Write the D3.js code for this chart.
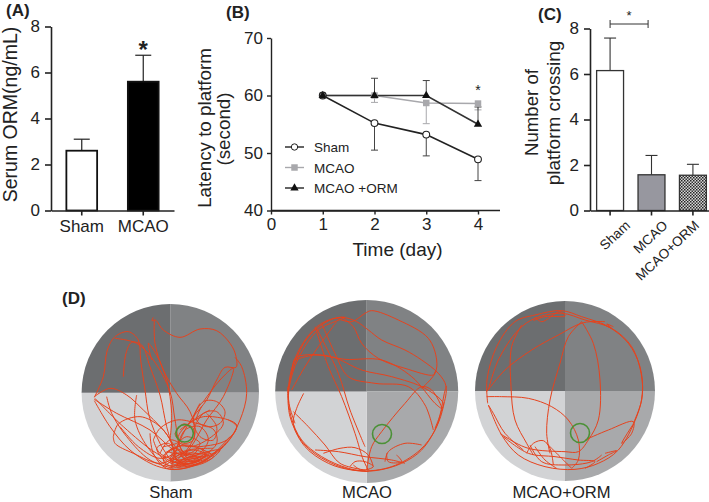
<!DOCTYPE html>
<html><head><meta charset="utf-8">
<script src="https://cdn.jsdelivr.net/npm/d3@7/dist/d3.min.js"></script>
<style>html,body{margin:0;padding:0;background:#fff}svg{display:block}
text{font-family:"Liberation Sans",Arial,sans-serif;fill:#222}
.axis path,.axis line{stroke:#222}</style></head><body>
<script>
// ---- Data -------------------------------------------------
const catsA=["Sham","MCAO"], valsA=[2.6,5.6], errA=[3.1,6.75];
const ticksA=[0,2,4,6,8];
const days=[1,2,3,4];
const shamB=[60,55.2,53.2,48.9], shamBlo=[60,50.5,49.5,45.2];
const mcaoB=[60,60,58.7,58.6], mcaoBlo=[60,58.8,55.1,57.5];
const ormB=[60,60,60,55], ormBhi=[60,63,62.6,58];
const namesB=["Sham","MCAO","MCAO +ORM"];
const catsC=["Sham","MCAO","MCAO+ORM"], valsC=[6.15,1.57,1.55], errC=[7.58,2.42,2.03];
const ticksC=[0,2,4,6,8];
const poolNames=["Sham","MCAO","MCAO+ORM"];
// swim tracks in tracker units
const trackSham=[
[[280,112],[276,122],[286,120],[310,150],[360,172],[420,147],[470,152],[510,190],[527,225],[528,262],[495,262],[470,300],[440,360],[400,410],[375,450],[345,520],[335,560]],
[[283,120],[285,190],[310,270],[350,340],[390,395],[405,460],[380,510],[340,550]],
[[103,352],[130,290],[142,210],[165,170],[205,155],[235,180],[242,240],[255,330],[268,410],[300,490],[335,545]],
[[165,175],[230,190],[280,240],[330,335],[345,420],[362,505],[390,545]],
[[190,290],[198,220],[215,187],[245,195],[270,260],[300,345],[320,440],[350,540]],
[[275,240],[265,190],[290,225],[320,300],[335,400],[330,480]],
[[103,350],[150,325],[200,345],[250,390],[310,450],[360,515],[420,540]],
[[103,358],[170,400],[270,450],[340,510],[400,545],[450,520]],
[[103,362],[150,440],[210,510],[290,558],[350,568],[420,550],[500,490],[540,420],[560,340],[545,260],[525,232]],
[[160,470],[175,432],[240,410],[300,440],[335,490],[340,530],[300,550],[220,520],[165,490],[160,470]],
[[140,350],[155,400],[200,470],[270,540],[340,565]],
[[230,345],[225,420],[262,500],[320,555],[390,550]],
[[280,480],[300,445],[350,420],[410,430],[462,450],[470,490],[430,525],[360,540],[300,520],[280,480]],
[[345,460],[370,432],[400,445],[400,480],[370,490],[348,470],[345,460]],
[[390,430],[430,365],[470,365],[495,395],[480,430],[440,440],[410,420],[425,380]],
[[430,365],[480,300],[520,265],[490,350],[440,420],[400,490],[370,530]],
[[360,450],[430,410],[530,435],[500,480],[420,500],[350,500],[310,530],[350,555],[440,530],[490,500]],
[[320,520],[370,495],[430,510],[460,530],[400,555],[335,560],[310,540],[340,505],[380,525],[350,550]],
[[330,565],[380,540],[440,525],[400,510],[345,535],[390,555],[450,530],[370,520],[330,545],[420,540]],
[[350,505],[375,450],[420,440],[445,480],[410,525],[370,515],[355,470],[400,420],[450,390]],
[[105,355],[190,440],[290,520],[360,550],[440,535],[510,470]],
[[180,440],[235,500],[300,535],[345,515],[325,490],[290,505],[320,550]],
[[310,560],[360,530],[420,520],[480,510],[440,545],[380,558],[330,535],[385,510],[460,505]],
[[345,545],[395,530],[450,515],[405,545],[350,560],[375,535],[425,530],[370,550]],
[[300,520],[330,480],[390,500],[455,470],[490,430],[470,395],[430,400],[400,450]],
[[420,370],[400,420],[420,470],[460,480],[470,440],[440,400]],
[[270,460],[280,520],[320,565],[390,560],[470,515],[530,440],[505,420]],
[[330,530],[355,510],[375,540],[400,525],[420,505],[435,525],[400,550],[360,545],[340,525]],
[[310,500],[350,490],[380,470],[420,490],[390,520],[345,520],[320,515]]
];
const trackMcao=[
[[116,340],[95,385],[85,430],[120,500],[190,550],[260,570],[330,572],[410,550],[470,510],[515,440],[535,380],[543,318],[520,280],[470,240],[420,210],[350,180],[310,150],[275,125],[230,112],[170,130],[120,180],[85,250],[70,330],[78,410],[110,480],[170,530],[250,565],[310,575]],
[[68,320],[75,410],[115,490],[190,545],[280,572],[380,560],[465,510],[510,450],[530,390],[535,370],[480,325],[380,290],[290,270],[200,230],[120,225],[90,235],[80,280]],
[[90,240],[150,225],[240,238],[350,240],[440,290],[510,370],[530,385],[500,330],[470,320],[420,370],[350,455],[320,500],[305,570]],
[[215,115],[260,125],[300,100],[320,92],[400,120],[490,175],[515,240],[510,280],[470,325]],
[[230,112],[265,140],[290,190],[340,235],[420,265],[505,285],[510,275]],
[[150,140],[190,260],[230,350],[270,460],[295,540],[310,570]],
[[215,125],[160,200],[120,260],[80,330]],
[[155,145],[220,280],[255,390],[300,500]],
[[170,130],[210,220],[250,290],[330,310],[430,320],[480,375],[505,450]],
[[85,395],[130,440],[180,495],[225,550],[300,570]],
[[150,510],[220,515],[300,530],[380,540],[420,550]],
[[175,520],[225,505],[270,503],[310,525],[325,560]],
[[255,560],[270,545],[300,545],[325,560],[290,570],[265,555]],
[[360,545],[370,515],[420,490],[470,495]],
[[365,520],[370,545],[410,545],[395,525]],
[[70,330],[85,260],[130,170],[200,118],[240,112],[160,150],[100,235],[73,320],[72,370],[90,430]],
[[510,445],[525,405],[538,340],[544,318]]
];
const trackOrm=[
[[68,370],[66,300],[95,200],[150,125],[210,105],[290,92],[350,110],[430,140],[490,190],[525,260],[532,340],[515,410],[460,510],[400,550],[330,568],[240,560],[160,525],[110,465],[70,375]],
[[70,330],[100,240],[160,150],[210,115],[290,100],[360,120],[440,145],[500,200],[530,290],[530,360],[505,430]],
[[65,350],[110,350],[190,355],[260,380],[310,420],[340,480],[340,540],[320,565]],
[[170,135],[140,200],[138,320],[150,420],[185,490],[205,525]],
[[255,520],[245,460],[255,360],[285,250],[310,170],[350,125]],
[[350,125],[385,190],[405,300],[400,420],[370,480],[340,515],[300,515],[190,505],[120,470],[105,460]],
[[65,335],[120,270],[200,210],[280,165],[355,128],[420,125]],
[[360,480],[430,450],[505,425],[500,460],[470,490],[505,432]],
[[185,520],[205,490],[235,482],[255,505],[265,555]],
[[195,495],[230,545],[300,555],[380,545],[410,525]],
[[115,470],[190,520],[270,530],[340,540],[390,545],[360,565]],
[[210,500],[240,540],[275,565]],
[[245,490],[285,530],[320,565]],
[[210,112],[230,125],[285,95],[300,108],[240,110],[205,122]],
[[410,130],[440,145],[425,132],[445,140]],
[[70,375],[85,400],[120,460],[175,510]],
[[395,545],[430,525],[455,512],[420,520]]
];
const tracks=[trackSham,trackMcao,trackOrm];
const platforms=[[374,460,26],[351,462,28.5],[345,459,28.5]];

// ---- Page -------------------------------------------------
const svg=d3.select("body").append("svg").attr("width",709).attr("height",502);
const ink="#222", red="#e6431e";
const defs=svg.append("defs");
const pat=defs.append("pattern").attr("id","hatch").attr("width",3).attr("height",3).attr("patternUnits","userSpaceOnUse");
pat.append("rect").attr("width",3).attr("height",3).attr("fill","#d8d8d8");
pat.append("rect").attr("width",1.5).attr("height",1.5).attr("fill","#222");
pat.append("rect").attr("x",1.5).attr("y",1.5).attr("width",1.5).attr("height",1.5).attr("fill","#333");

function styleAxis(g,fs,w){g.attr("class","axis");g.selectAll("path,line").attr("stroke",ink).attr("stroke-width",w);
 g.selectAll("text").attr("font-size",fs).attr("font-family",'"Liberation Sans",Arial,sans-serif').attr("fill",ink);}
function panel(t,x,y){svg.append("text").attr("x",x).attr("y",y).attr("font-size",17).attr("font-weight","bold").attr("fill","#111").text(t);}
function ylabel(l,x,cy,fs){svg.append("text").attr("transform",`translate(${x},${cy}) rotate(-90)`).attr("text-anchor","middle").attr("font-size",fs).text(l);}
function whisker(x,y0,y1,cap,col,w){const g=svg.append("g").attr("stroke",col||ink).attr("stroke-width",w||1.2);
 g.append("line").attr("x1",x).attr("x2",x).attr("y1",y0).attr("y2",y1);
 g.append("line").attr("x1",x-cap).attr("x2",x+cap).attr("y1",y1).attr("y2",y1);}

// Panel A
{const y=d3.scaleLinear().domain([0,8]).range([210.5,26.5]);
 const x=d3.scaleBand().domain(catsA).range([51,174]).paddingInner(.5).paddingOuter(.25);
 const x2=d=>x(d)+x.bandwidth()/2;
 catsA.forEach((c,i)=>whisker(x2(c),y(valsA[i]),y(errA[i]),8));
 svg.selectAll(".ba").data(catsA).join("rect").attr("x",x).attr("width",x.bandwidth())
  .attr("y",(d,i)=>y(valsA[i])).attr("height",(d,i)=>y(0)-y(valsA[i]))
  .attr("fill",(d,i)=>i?"#000":"#fff").attr("stroke","#111").attr("stroke-width",1.8);
 const gy=svg.append("g").attr("transform","translate(51,0)").call(d3.axisLeft(y).tickValues(ticksA).tickSize(6).tickPadding(5).tickSizeOuter(0));
 styleAxis(gy,17,1.6);
 const gx=svg.append("g").attr("transform",`translate(0,${y(0)})`).call(d3.axisBottom(x).tickSize(5).tickPadding(4).tickSizeOuter(0));
 styleAxis(gx,17,1.6);
 ylabel("Serum ORM(ng/mL)",17,114.5,19.5);
 panel("(A)",6,16);
 svg.append("text").attr("x",x2("MCAO")).attr("y",y(6.75)+3).attr("text-anchor","middle").attr("font-size",24).attr("font-weight","bold").attr("fill","#111").text("*");
}
// Panel B
{const x=d3.scaleLinear().domain([0,4]).range([271,478]);
 const y=d3.scaleLinear().domain([40,70]).range([210.5,38]);
 const line=d3.line().x((d,i)=>x(days[i])).y(d=>y(d));
 const gr="#a8a8ac";
 days.forEach((d,i)=>{ if(i){whisker(x(d),y(mcaoB[i]),y(mcaoBlo[i]),3.5,gr,1);whisker(x(d),y(shamB[i]),y(shamBlo[i]),3.5,"#444",1);whisker(x(d),y(ormB[i]),y(ormBhi[i]),3.5,"#444",1);} });
 svg.append("path").attr("d",line(mcaoB)).attr("fill","none").attr("stroke",gr).attr("stroke-width",1.6);
 svg.append("path").attr("d",line(ormB)).attr("fill","none").attr("stroke","#333").attr("stroke-width",1.6);
 svg.append("path").attr("d",line(shamB)).attr("fill","none").attr("stroke","#222").attr("stroke-width",1.6);
 const sq=d3.symbol().type(d3.symbolSquare).size(42), tr=d3.symbol().type(d3.symbolTriangle).size(30);
 svg.selectAll(".m").data(mcaoB).join("path").attr("d",sq).attr("fill",gr).attr("transform",(d,i)=>`translate(${x(days[i])},${y(d)})`);
 svg.selectAll(".o").data(ormB).join("path").attr("d",tr).attr("fill","#111").attr("transform",(d,i)=>`translate(${x(days[i])},${y(d)})`);
 svg.selectAll(".s").data(shamB).join("circle").attr("r",3.4).attr("cx",(d,i)=>x(days[i])).attr("cy",d=>y(d)).attr("fill","#fff").attr("fill-opacity",(d,i)=>i?1:0).attr("stroke","#222").attr("stroke-width",1.1);
 const gy=svg.append("g").attr("transform","translate(271,0)").call(d3.axisLeft(y).tickValues([40,50,60,70]).tickSize(4).tickPadding(4).tickSizeOuter(0));
 styleAxis(gy,17,1.4);
 const gx=svg.append("g").attr("transform",`translate(0,${y(40)})`).call(d3.axisBottom(x).tickValues([0,1,2,3,4]).tickFormat(d3.format("d")).tickSize(4).tickPadding(3).tickSizeOuter(0));
 styleAxis(gx,17,1.4);
 svg.append("line").attr("x1",271).attr("x2",500).attr("y1",y(40)).attr("y2",y(40)).attr("stroke",ink).attr("stroke-width",1.4);
 ylabel("Latency to platform",211,128,18.8);
 ylabel("(second)",230,129,18.8);
 svg.append("text").attr("x",397.5).attr("y",256).attr("text-anchor","middle").attr("font-size",19).text("Time (day)");
 panel("(B)",226,18);
 svg.append("text").attr("x",x(4)).attr("y",y(58)-12).attr("text-anchor","middle").attr("font-size",14).attr("fill","#222").text("*");
 namesB.forEach((n,i)=>{const ly=147+i*20.5;
  svg.append("line").attr("x1",285).attr("x2",304).attr("y1",ly).attr("y2",ly).attr("stroke",i==1?gr:"#222").attr("stroke-width",1.4);
  if(i==0)svg.append("circle").attr("cx",294.5).attr("cy",ly).attr("r",3.2).attr("fill","#fff").attr("stroke","#222").attr("stroke-width",1);
  if(i==1)svg.append("path").attr("d",sq).attr("fill",gr).attr("transform",`translate(294.5,${ly})`);
  if(i==2)svg.append("path").attr("d",tr).attr("fill","#111").attr("transform",`translate(294.5,${ly})`);
  svg.append("text").attr("x",314).attr("y",ly+5).attr("font-size",13.5).attr("fill","#333").text(n);
 });
}
// Panel C
{const y=d3.scaleLinear().domain([0,8]).range([210.5,28.5]);
 const x=d3.scaleBand().domain(catsC).range([590,713]).paddingInner(.35).paddingOuter(.16);
 const xc=d=>x(d)+x.bandwidth()/2;
 catsC.forEach((c,i)=>whisker(xc(c),y(valsC[i]),y(errC[i]),6,"#333",1.1));
 svg.selectAll(".bc").data(catsC).join("rect").attr("x",x).attr("width",x.bandwidth())
  .attr("y",(d,i)=>y(valsC[i])).attr("height",(d,i)=>y(0)-y(valsC[i]))
  .attr("fill",(d,i)=>["#fff","#97979f","url(#hatch)"][i]).attr("stroke","#333").attr("stroke-width",1.3);
 const gy=svg.append("g").attr("transform","translate(590,0)").call(d3.axisLeft(y).tickValues(ticksC).tickSize(6).tickPadding(5).tickSizeOuter(0));
 styleAxis(gy,17,1.6);
 const gx=svg.append("g").attr("transform",`translate(0,${y(0)})`).call(d3.axisBottom(x).tickSize(5).tickFormat("").tickSizeOuter(0));
 styleAxis(gx,12,1.6);
 const labelNudge=[21,17,7];
 catsC.forEach((c,i)=>svg.append("text").attr("transform",`translate(${xc(c)+labelNudge[i]},${y(0)+16}) rotate(-43)`).attr("text-anchor","end").attr("font-size",13.6).attr("fill","#333").text(c));
 ylabel("Number of",538,112.5,18.6);
 ylabel("platform crossing",560,113,19);
 panel("(C)",538,20);
 const a=xc("Sham"),b=a+38;
 svg.append("path").attr("d",`M${a},20V28M${a},24H${b}M${b},20V28`).attr("fill","none").attr("stroke","#333").attr("stroke-width",1);
 svg.append("text").attr("x",(a+b)/2).attr("y",20).attr("text-anchor","middle").attr("font-size",13).attr("fill","#222").text("*");
}
// Panel D
panel("(D)",62,304);
const pools=[{cx:170.3,cy:392.7,r:88.7,ox:60,lx:171,ly:497.5},{cx:366.7,cy:391.5,r:91.5,ox:265,lx:367,ly:497.5},{cx:565,cy:391,r:90,ox:465,lx:561.5,ly:497.5}];
pools.forEach((p,k)=>{
 const sx=d3.scaleLinear().domain([0,630]).range([p.ox,p.ox+210]);
 const sy=d3.scaleLinear().domain([0,666]).range([280,502]);
 const arc=d3.arc().innerRadius(0).outerRadius(p.r);
 const g=svg.append("g").attr("transform",`translate(${p.cx},${p.cy})`);
 const cols=["#808284","#a8a9ab","#d2d3d5","#6c6e70"];
 [0,1,2,3].forEach(q=>g.append("path").attr("d",arc({startAngle:q*Math.PI/2,endAngle:(q+1)*Math.PI/2})).attr("fill",cols[q]));
 const line=d3.line().x(d=>sx(d[0])).y(d=>sy(d[1])).curve(d3.curveCatmullRom.alpha(.5));
 svg.append("g").selectAll("path").data(tracks[k]).join("path").attr("d",line).attr("fill","none").attr("stroke",red).attr("stroke-width",1);
 const pf=platforms[k];
 svg.append("circle").attr("cx",sx(pf[0])).attr("cy",sy(pf[1])).attr("r",sx(pf[2])-sx(0)).attr("fill","none").attr("stroke","#4b9136").attr("stroke-width",1.6);
 svg.append("text").attr("x",p.lx).attr("y",p.ly).attr("text-anchor","middle").attr("font-size",16.6).attr("fill","#222").text(poolNames[k]);
});
</script></body></html>
